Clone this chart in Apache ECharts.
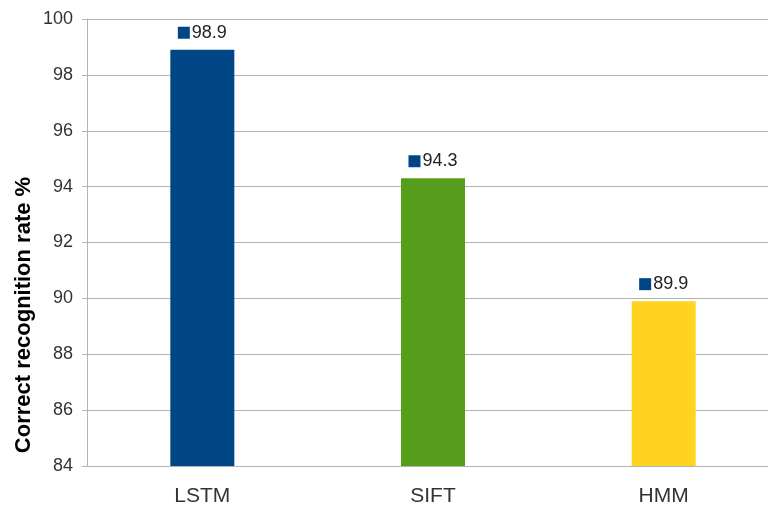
<!DOCTYPE html>
<html>
<head>
<meta charset="utf-8">
<script src="https://cdn.jsdelivr.net/npm/echarts@6/dist/echarts.min.js"></script>
<style>
  html, body { margin: 0; padding: 0; background: #fff; overflow: hidden; }
  /* plot area runs past the right edge of the window, as in the source image */
  #chart { width: 779px; height: 508px; }
</style>
</head>
<body>
<div id="chart"></div>
<script>
const categories = ['LSTM', 'SIFT', 'HMM']
const rates = [98.9, 94.3, 89.9]
const barColors = ['#004586', '#579d1c', '#ffd320']
const yTicks = { min: 84, max: 100, interval: 2 }
const yTitle = 'Correct recognition rate %'

const chart = echarts.init(document.getElementById('chart'))
chart.setOption({
  backgroundColor: '#fff',
  animation: false,
  grid: { left: 87, top: 19, right: 0, bottom: 42 },
  graphic: [{
    type: 'text',
    x: 24, y: 315,
    rotation: Math.PI / 2,
    style: {
      text: yTitle,
      fill: '#000',
      font: 'bold 22px "Liberation Sans"',
      align: 'center',
      verticalAlign: 'middle'
    }
  }],
  xAxis: {
    type: 'category',
    data: categories,
    axisLine: { show: false },
    axisTick: { show: false },
    axisLabel: { color: '#333', fontSize: 21, fontFamily: 'Liberation Sans', margin: 20 }
  },
  yAxis: {
    type: 'value',
    min: yTicks.min,
    max: yTicks.max,
    interval: yTicks.interval,
    axisLine: { show: true, lineStyle: { color: '#b3b3b3' } },
    axisTick: { show: true, length: 5, lineStyle: { color: '#b3b3b3' } },
    axisLabel: { color: '#333', fontSize: 18, fontFamily: 'Liberation Sans', margin: 14 },
    splitLine: { lineStyle: { color: '#b3b3b3' } }
  },
  series: [{
    type: 'bar',
    barWidth: 64,
    data: rates.map((v, i) => ({ value: v, itemStyle: { color: barColors[i] } })),
    label: {
      show: true,
      position: 'top',
      distance: 8,
      formatter: p => '{sq|}{v|' + p.value + '}',
      rich: {
        sq: { width: 12, height: 12, backgroundColor: '#004586' },
        v: { color: '#222', fontSize: 18, fontFamily: 'Liberation Sans', padding: [0, 0, 0, 2] }
      }
    }
  }]
})
</script>
</body>
</html>
